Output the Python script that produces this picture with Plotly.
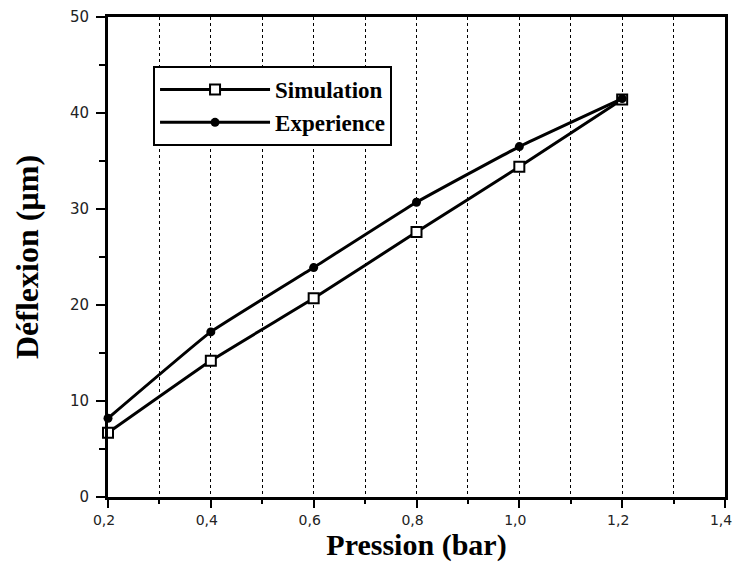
import plotly.graph_objects as go

pression = [0.2, 0.4, 0.6, 0.8, 1.0, 1.2]
simulation = [6.7, 14.2, 20.7, 27.6, 34.4, 41.4]
experience = [8.2, 17.2, 23.9, 30.7, 36.5, 41.5]
x_ticks = [0.2, 0.4, 0.6, 0.8, 1.0, 1.2, 1.4]
y_ticks = [0, 10, 20, 30, 40, 50]

serif = "Liberation Serif"
sans = "DejaVu Sans"

fig = go.Figure()
fig.add_trace(go.Scatter(
    x=pression, y=simulation, name="Simulation", mode="lines+markers", cliponaxis=False,
    line=dict(color="black", width=3, shape="spline", smoothing=0.3),
    marker=dict(symbol="square", size=10, color="white", line=dict(color="black", width=2)),
))
fig.add_trace(go.Scatter(
    x=pression, y=experience, name="Experience", mode="lines+markers", cliponaxis=False,
    line=dict(color="black", width=3, shape="spline", smoothing=0.3),
    marker=dict(symbol="circle", size=9, color="black"),
))

fig.update_layout(
    width=736, height=568,
    margin=dict(l=108, r=11, t=17, b=71, autoexpand=False),
    paper_bgcolor="white", plot_bgcolor="white",
    separators=", ",
    showlegend=True,
    legend=dict(
        x=0.073, y=0.898, xanchor="left", yanchor="top",
        bgcolor="white", bordercolor="black", borderwidth=2,
        font=dict(family=serif, size=23, color="black", weight="bold"),
        itemwidth=110, tracegroupgap=0,
    ),
    xaxis=dict(
        range=[0.2, 1.4], tickvals=x_ticks, tickformat=".1f", automargin=True,
        showline=True, linecolor="black", linewidth=3, mirror=True,
        ticks="outside", ticklen=8, tickwidth=2, tickcolor="black",
        ticklabeloverflow="allow", ticklabelshift=-4,
        showgrid=True, gridcolor="black", griddash="dot", gridwidth=1,
        minor=dict(dtick=0.1, showgrid=True, gridcolor="black", griddash="dot",
                   gridwidth=1, ticks="outside", ticklen=4, tickcolor="black"),
        tickfont=dict(family=sans, size=14, color="#222"),
        zeroline=False,
        title=dict(text="<b>Pression (bar)</b>", font=dict(family=serif, size=30, color="black"),
                   standoff=5),
    ),
    yaxis=dict(
        range=[0, 50], tickvals=y_ticks, automargin=True,
        showline=True, linecolor="black", linewidth=3, mirror=True,
        ticks="outside", ticklen=9, tickwidth=2, tickcolor="black",
        ticklabelstandoff=4,
        showgrid=False, zeroline=False,
        minor=dict(dtick=5, ticks="outside", ticklen=6, tickcolor="black", showgrid=False),
        tickfont=dict(family=sans, size=15, color="#222"),
        title=dict(text="<b>Déflexion (µm)</b>", font=dict(family=serif, size=32, color="black"),
                   standoff=22),
    ),
)

fig.write_html("out.html", config={"displayModeBar": False},
               post_script="document.body.style.margin='0';")
